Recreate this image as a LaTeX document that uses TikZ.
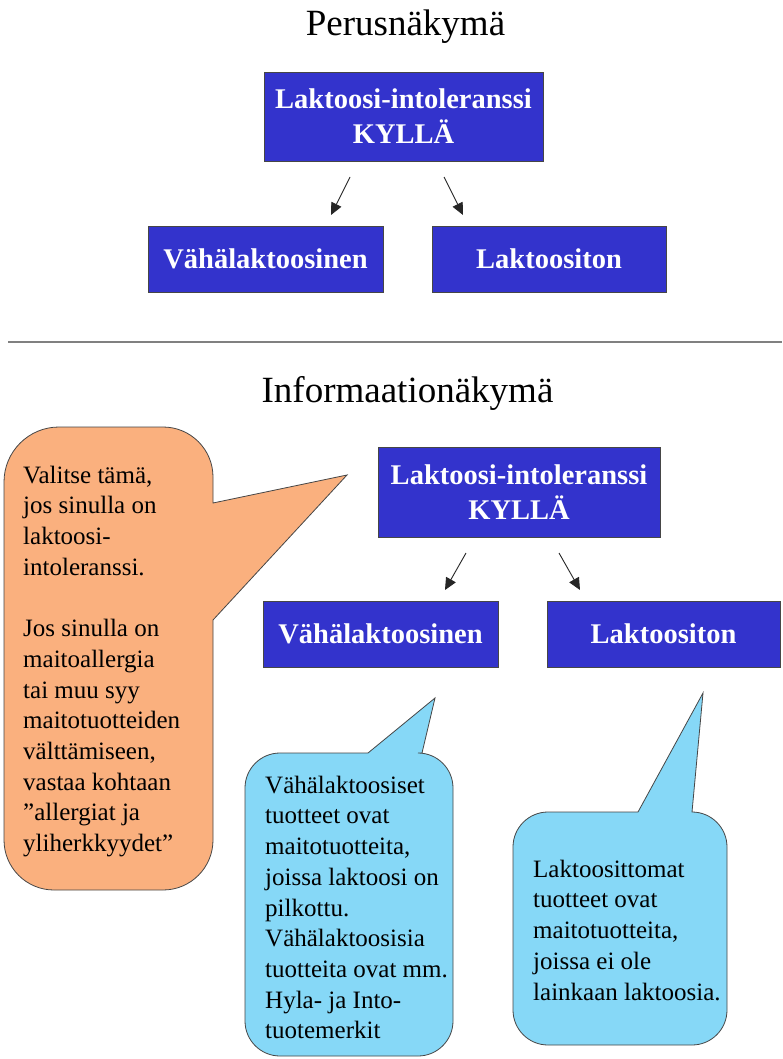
\documentclass[tikz,border=0pt]{standalone}
\usepackage{fontspec}
\setmainfont{Liberation Serif}
\usetikzlibrary{arrows.meta}
\definecolor{boxblue}{RGB}{51,51,204}
\definecolor{calloutorange}{RGB}{250,176,126}
\definecolor{calloutblue}{RGB}{134,216,247}
\definecolor{edgegray}{RGB}{70,70,70}
\begin{document}
\begin{tikzpicture}[x=1pt,y=-1pt,
  bluebox/.style={draw=edgegray, line width=0.8pt, fill=boxblue, text=white,
    font=\fontsize{28.5}{35}\selectfont\bfseries, align=center, inner sep=0pt},
  titletext/.style={font=\fontsize{37}{44}\selectfont, anchor=base, inner sep=0pt},
  connector/.style={draw=black!85, line width=0.9pt, -{Triangle[length=12pt,width=11pt]}},
  callout/.style={draw=edgegray, line width=0.8pt},
  callouttext/.style={font=\fontsize{25}{30.7}\selectfont, align=left, anchor=north west, inner sep=0pt}
]
\useasboundingbox (0,0) rectangle (782,1059);
\fill[white] (0,0) rectangle (782,1059);

% ---------- Perusnäkymä ----------
\node[titletext] (title1) at (405.5,36) {Perusnäkymä};
\node[bluebox, minimum width=279pt, minimum height=89pt] (top1) at (403.5,116.5) {Laktoosi-intoleranssi\\KYLLÄ};
\node[bluebox, minimum width=235pt, minimum height=66pt] (low1) at (265.5,259) {Vähälaktoosinen};
\node[bluebox, minimum width=234pt, minimum height=66pt] (free1) at (549,259) {Laktoositon};
\coordinate (a1s) at (350,177);
\coordinate (a1e) at (331,215);
\coordinate (a2s) at (444,177);
\coordinate (a2e) at (463,215);
\draw[connector] (a1s) -- (a1e);
\draw[connector] (a2s) -- (a2e);

% separator
\coordinate (sepL) at (8,342);
\coordinate (sepR) at (782,342);
\draw[gray, line width=1.5pt] (sepL) -- (sepR);

% ---------- Informaationäkymä ----------
\node[titletext] (title2) at (407.5,402) {Informaationäkymä};

% orange callout
\filldraw[callout, fill=calloutorange]
  (213,620) -- (213,840) arc (0:90:50) -- (54,890) arc (90:180:50)
  -- (4,482) arc (180:270:55) -- (163,427) arc (270:360:50)
  -- (213,503) -- (347,475) -- cycle;
\node[callouttext] (otext) at (23,463) {\rule{0pt}{20pt}Valitse tämä,\\jos sinulla on\\laktoosi-\\intoleranssi.\\[30.7pt]Jos sinulla on\\maitoallergia\\tai muu syy\\maitotuotteiden\\välttämiseen,\\vastaa kohtaan\\”allergiat ja\\yliherkkyydet”};

\node[bluebox, minimum width=282pt, minimum height=90pt] (top2) at (519,492) {Laktoosi-intoleranssi\\KYLLÄ};
\node[bluebox, minimum width=235pt, minimum height=66pt] (low2) at (380.5,634) {Vähälaktoosinen};
\node[bluebox, minimum width=233pt, minimum height=66pt] (free2) at (663.5,634) {Laktoositon};
\coordinate (b1s) at (466,553);
\coordinate (b1e) at (445,590);
\coordinate (b2s) at (559,553);
\coordinate (b2e) at (580,590);
\draw[connector] (b1s) -- (b1e);
\draw[connector] (b2s) -- (b2e);

% blue callout 1
\filldraw[callout, fill=calloutblue]
  (422,753) -- (418,753) arc (270:360:35) -- (453,1021) arc (0:90:35)
  -- (280,1056) arc (90:180:35) -- (245,788) arc (180:270:35)
  -- (368,753) -- (435,698) -- cycle;
\node[callouttext] (btext1) at (265,773) {\rule{0pt}{20pt}Vähälaktoosiset\\tuotteet ovat\\maitotuotteita,\\joissa laktoosi on\\pilkottu.\\Vähälaktoosisia\\tuotteita ovat mm.\\Hyla- ja Into-\\tuotemerkit};

% blue callout 2
\filldraw[callout, fill=calloutblue]
  (692,812) arc (270:360:35) -- (727,1010) arc (0:90:35)
  -- (548,1045) arc (90:180:35) -- (513,847) arc (180:270:35)
  -- (638,812) -- (703,693) -- cycle;
\node[callouttext] (btext2) at (533,857) {\rule{0pt}{20pt}Laktoosittomat\\tuotteet ovat\\maitotuotteita,\\joissa ei ole\\lainkaan laktoosia.};
\end{tikzpicture}
\end{document}
